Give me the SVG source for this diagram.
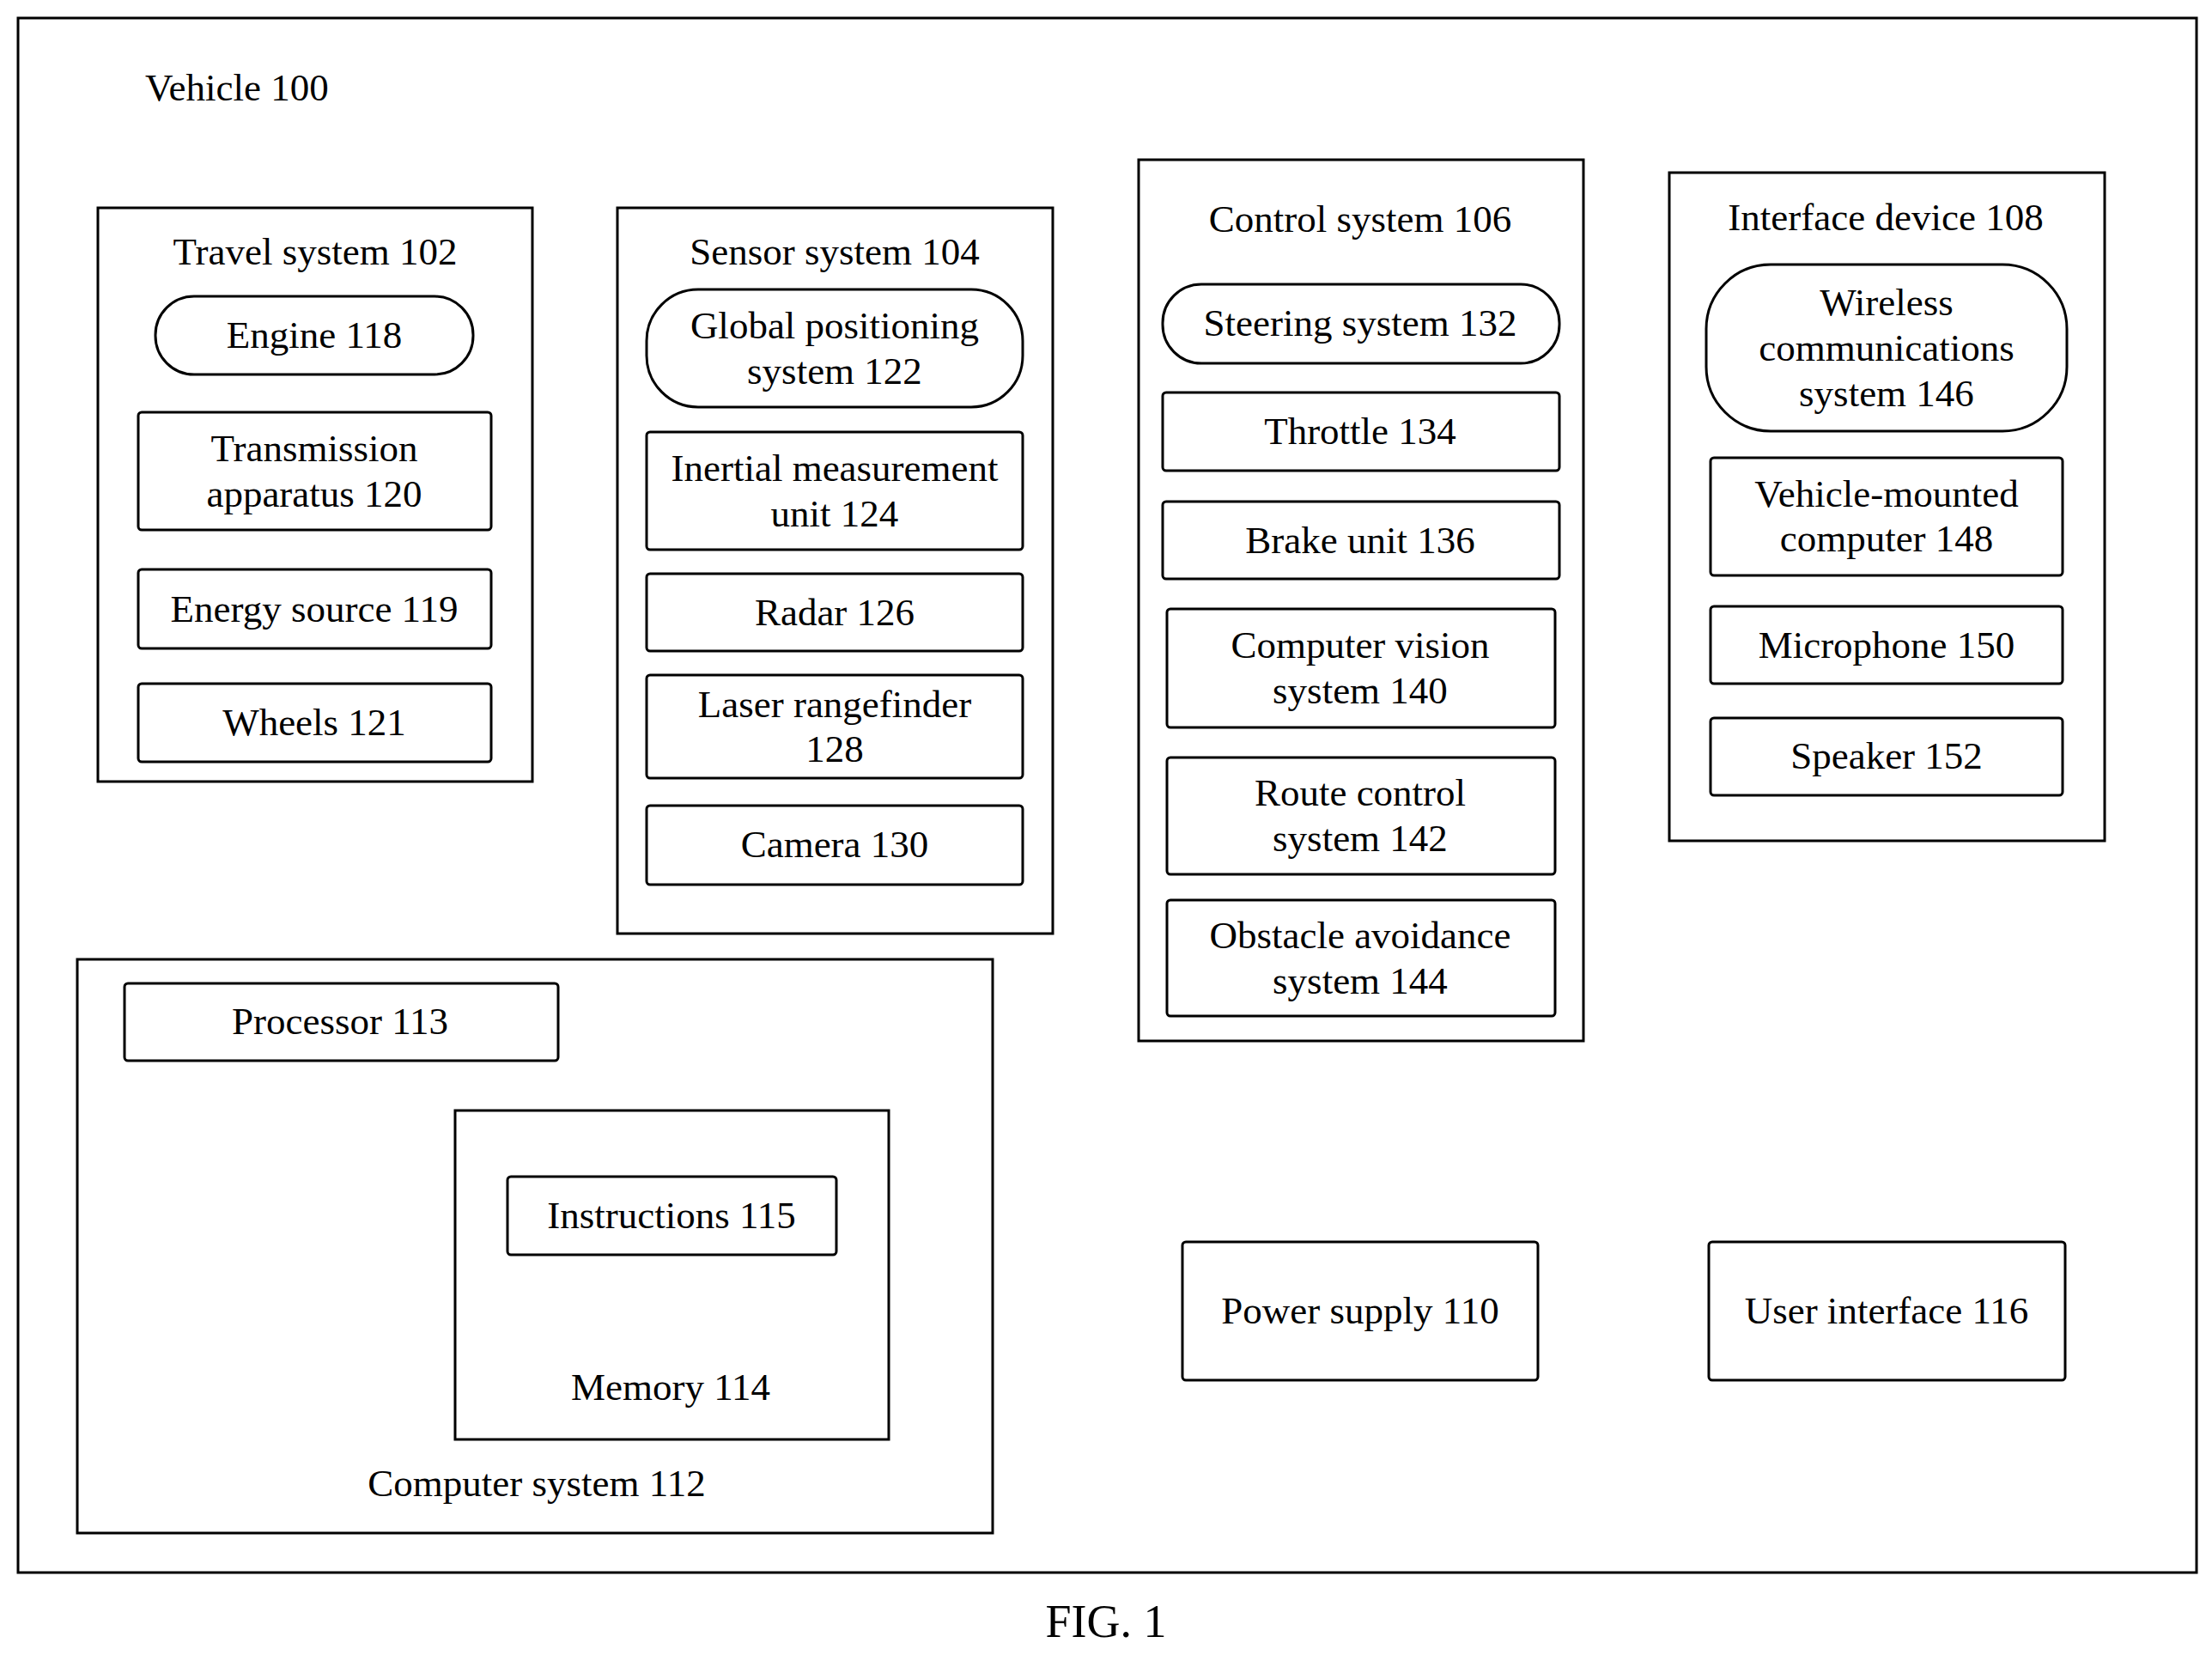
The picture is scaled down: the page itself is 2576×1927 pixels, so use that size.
<svg xmlns="http://www.w3.org/2000/svg" width="2576" height="1927" viewBox="0 0 2576 1927">
<style>
rect{fill:#fff;stroke:#000;stroke-width:3}
text{font-family:"Liberation Serif",serif;font-size:45px;fill:#000;text-anchor:middle;dominant-baseline:central}
</style>
<rect x="0" y="0" width="2576" height="1927" style="stroke:none"/>
<g id="vehicle"><rect x="21" y="21" width="2537" height="1810"/><text x="169" y="102" style="text-anchor:start">Vehicle 100</text></g>
<g id="travel"><rect x="114" y="242" width="506" height="668"/><text x="367" y="293">Travel system 102</text></g>
<g id="engine"><rect x="181" y="345" width="370" height="91" rx="45"/><text x="366" y="390">Engine 118</text></g>
<g id="transmission"><rect x="161" y="480" width="411" height="137" rx="4"/><text x="366" y="522">Transmission</text><text x="366" y="575">apparatus 120</text></g>
<g id="energy"><rect x="161" y="663" width="411" height="92" rx="4"/><text x="366" y="709">Energy source 119</text></g>
<g id="wheels"><rect x="161" y="796" width="411" height="91" rx="4"/><text x="366" y="841">Wheels 121</text></g>
<g id="sensor"><rect x="719" y="242" width="507" height="845"/><text x="972" y="293">Sensor system 104</text></g>
<g id="gps"><rect x="753" y="337" width="438" height="137" rx="60"/><text x="972" y="379">Global positioning</text><text x="972" y="432">system 122</text></g>
<g id="imu"><rect x="753" y="503" width="438" height="137" rx="4"/><text x="972" y="545">Inertial measurement</text><text x="972" y="598">unit 124</text></g>
<g id="radar"><rect x="753" y="668" width="438" height="90" rx="4"/><text x="972" y="713">Radar 126</text></g>
<g id="laser"><rect x="753" y="786" width="438" height="120" rx="4"/><text x="972" y="820">Laser rangefinder</text><text x="972" y="872">128</text></g>
<g id="camera"><rect x="753" y="938" width="438" height="92" rx="4"/><text x="972" y="983">Camera 130</text></g>
<g id="control"><rect x="1326" y="186" width="518" height="1026"/><text x="1584" y="255">Control system 106</text></g>
<g id="steering"><rect x="1354" y="331" width="462" height="92" rx="45"/><text x="1584" y="376">Steering system 132</text></g>
<g id="throttle"><rect x="1354" y="457" width="462" height="91" rx="4"/><text x="1584" y="502">Throttle 134</text></g>
<g id="brake"><rect x="1354" y="584" width="462" height="90" rx="4"/><text x="1584" y="629">Brake unit 136</text></g>
<g id="cv"><rect x="1359" y="709" width="452" height="138" rx="4"/><text x="1584" y="751">Computer vision</text><text x="1584" y="804">system 140</text></g>
<g id="route"><rect x="1359" y="882" width="452" height="136" rx="4"/><text x="1584" y="923">Route control</text><text x="1584" y="976">system 142</text></g>
<g id="obstacle"><rect x="1359" y="1048" width="452" height="135" rx="4"/><text x="1584" y="1089">Obstacle avoidance</text><text x="1584" y="1142">system 144</text></g>
<g id="interface"><rect x="1944" y="201" width="507" height="778"/><text x="2196" y="253">Interface device 108</text></g>
<g id="wireless"><rect x="1987" y="308" width="420" height="194" rx="75"/><text x="2197" y="352">Wireless</text><text x="2197" y="405">communications</text><text x="2197" y="458">system 146</text></g>
<g id="computer148"><rect x="1992" y="533" width="410" height="137" rx="4"/><text x="2197" y="575">Vehicle-mounted</text><text x="2197" y="627">computer 148</text></g>
<g id="mic"><rect x="1992" y="706" width="410" height="90" rx="4"/><text x="2197" y="751">Microphone 150</text></g>
<g id="speaker"><rect x="1992" y="836" width="410" height="90" rx="4"/><text x="2197" y="880">Speaker 152</text></g>
<g id="computersys"><rect x="90" y="1117" width="1066" height="668"/><text x="625" y="1727">Computer system 112</text></g>
<g id="processor"><rect x="145" y="1145" width="505" height="90" rx="4"/><text x="396" y="1189">Processor 113</text></g>
<g id="memory"><rect x="530" y="1293" width="505" height="383"/><text x="781" y="1615">Memory 114</text></g>
<g id="instructions"><rect x="591" y="1370" width="383" height="91" rx="4"/><text x="782" y="1415">Instructions 115</text></g>
<g id="power"><rect x="1377" y="1446" width="414" height="161" rx="4"/><text x="1584" y="1526">Power supply 110</text></g>
<g id="ui"><rect x="1990" y="1446" width="415" height="161" rx="4"/><text x="2197" y="1526">User interface 116</text></g>
<g id="connectors"></g>
<text x="1288" y="1888" style="font-size:54px">FIG. 1</text>
</svg>
